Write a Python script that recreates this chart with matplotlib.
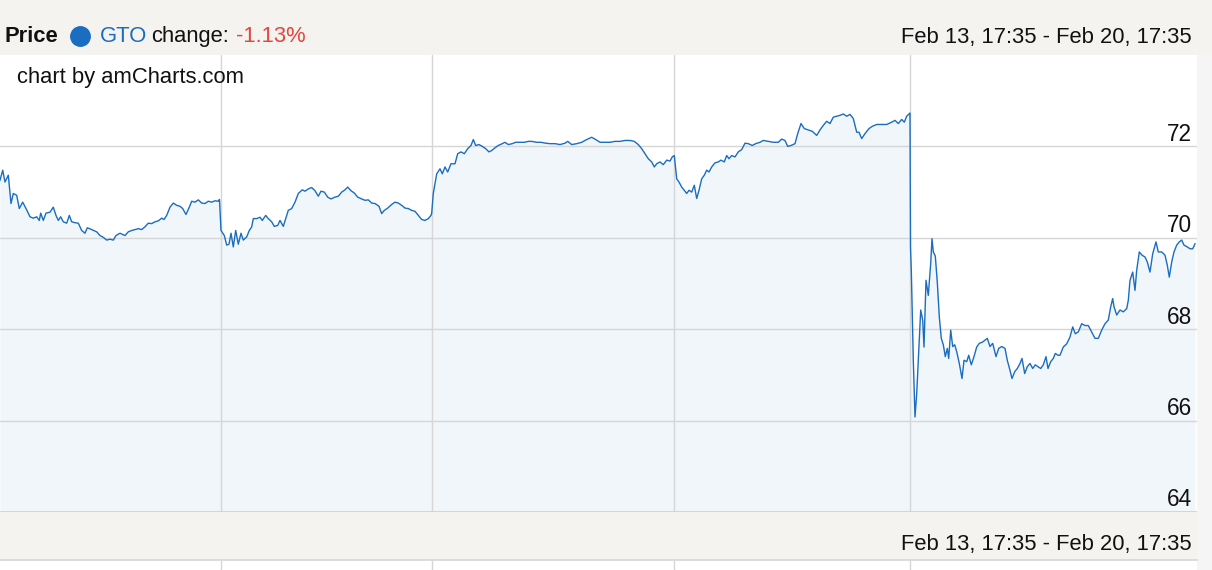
import matplotlib
matplotlib.use("Agg")
import matplotlib.pyplot as plt
from matplotlib.patches import Rectangle
from matplotlib.lines import Line2D

plt.rcParams['font.family'] = ['Liberation Sans', 'DejaVu Sans']

# ---------------- data ----------------
# position along the (compressed) time axis, 0 .. 1197 steps covering Feb 13 17:35 - Feb 20 17:35
t = [0, 2.7, 5, 8.3, 11, 13.3, 16.7, 19.3, 22.7, 26.7, 30, 33.3, 36.7, 39.3, 40.7, 43.3, 46, 50, 53.3, 56,
     58.3, 60.7, 63.3, 66.7, 69.3, 71.7, 75, 78.3, 81.7, 85, 87.3, 91.7, 96.7, 100, 103.3, 106.7, 110, 113.3,
     116, 120, 125, 128.3, 131.7, 135, 138.3, 141.7, 145, 148.3, 151.7, 155, 158.3, 161.7, 164, 166.7, 170,
     173.3, 176.7, 180, 182.7, 186, 189.3, 191.7, 195, 198.3, 201.7, 205, 208.3, 211.7, 215, 218.3,
     219.5, 221, 224.3, 226.7, 229, 231, 233.3, 235.7, 238.3, 241, 243.3, 246.7, 249.3, 251.7, 253.3, 256.7,
     260, 262.3, 265.7, 268.3, 271.7, 274.3, 277.7, 280, 283.3, 285.7, 288.3, 291.7, 295, 298.3, 302.3, 305,
     308.3, 311.7, 315, 318.3, 321, 324.3, 327.7, 331, 335, 338.3, 341.7, 345, 347.7, 351, 354.3, 357.7,
     361.7, 365, 368.3, 371.7, 375, 379, 381.7, 384.3, 387.7, 391.7, 395, 398.3, 401.7, 405, 408.3, 411.7,
     415, 418.3, 421.7, 425, 428.3, 431,
     431.7, 433.3, 436.7, 440, 442.3, 445, 447.7, 451, 455, 457.7, 461, 464.3, 467.7, 471, 473.3, 475.7, 479,
     482.3, 485.7, 489, 491.7, 495, 498.3, 502.3, 505, 508.3, 512.3, 515.7, 520, 524.3, 528.3, 531.7, 536.7,
     541, 545.7, 550, 555, 560, 565, 567.7, 571.7, 576.7, 581.7, 586.7, 591.7, 595.7, 600, 605, 610, 615,
     620, 625, 630, 634.3, 638.3, 641.7, 645, 648.3, 651.7, 654.3, 656.7, 660, 663.3, 666.7, 670, 672.3,
     674.3,
     676.7, 679, 681.7, 684.3, 686.7, 689, 691.7, 694.3, 696.7, 699, 701.7, 704.3, 706.7, 709, 711.7, 715,
     718.3, 721, 724.3, 726.7, 729, 731.7, 735, 738.3, 741.7, 745, 748.3, 752.3, 755.7, 760, 763.3, 768.3,
     773.3, 778.3, 781.7, 785, 787.7, 791, 795, 797.7, 801, 804.3, 808.3, 812.3, 816.7, 820, 823.3, 826.7,
     830, 833.3, 836.7, 840, 843.3, 846.7, 850, 853.3, 856.7, 859, 861.7, 865, 869, 872.3, 876.7, 881.7,
     886.7, 891.7, 895, 898.3, 901.7, 904.3, 906.7, 910,
     910.5, 911.3, 913.3, 915, 916.7, 918.3, 920.7, 922.7, 924, 926, 928.3, 930.7, 932, 933.3, 935.3, 937.3,
     939.3, 941.3, 943.3, 945.3, 947.3, 948.7, 950.7, 952.7, 954.7, 956.7, 959.3, 962, 964, 966.7, 968.7,
     971.3, 974, 976.7, 979.3, 982.7, 985, 987.3, 990, 992.7, 996, 998.7, 1001.7, 1005, 1007.3, 1010, 1012,
     1014.7, 1017.3, 1020, 1022, 1024.7, 1027.3, 1030, 1032.7, 1035.3, 1038, 1040.7, 1043.3, 1046, 1048,
     1050.7, 1053.3, 1055.3, 1058, 1060,
     1063.3, 1066.7, 1070, 1072.7, 1075.3, 1078.3, 1081.7, 1085, 1088.3, 1091.7, 1095, 1098.3, 1101.7, 1105,
     1108.3, 1110.7, 1112.7, 1114, 1116.7, 1120, 1123.3, 1126.7, 1128.3, 1130, 1132.7, 1135, 1136.7, 1139.3,
     1142, 1145, 1147.3, 1150, 1152.7, 1156, 1158.3, 1161.7, 1165, 1167.3, 1169.3, 1171.7, 1174, 1176.7,
     1179.3, 1181.7, 1184, 1187.3, 1190, 1192.7, 1195]

price = [71.26, 71.48, 71.22, 71.37, 70.75, 70.97, 70.93, 70.64, 70.78, 70.61, 70.46, 70.43, 70.46, 70.38,
         70.54, 70.38, 70.54, 70.56, 70.67, 70.49, 70.38, 70.46, 70.35, 70.32, 70.49, 70.35, 70.33, 70.32,
         70.16, 70.10, 70.22, 70.18, 70.13, 70.05, 70.01, 69.95, 69.97, 69.95, 70.05, 70.10, 70.05, 70.13,
         70.16, 70.18, 70.20, 70.18, 70.24, 70.32, 70.31, 70.35, 70.37, 70.43, 70.40, 70.49, 70.67, 70.76,
         70.71, 70.69, 70.64, 70.51, 70.67, 70.80, 70.78, 70.83, 70.76, 70.75, 70.80, 70.78, 70.81, 70.80,
         70.84, 70.16, 70.05, 69.84, 69.86, 70.10, 69.80, 70.16, 69.86, 70.10, 69.95, 70.02, 70.16, 70.24,
         70.42, 70.42, 70.45, 70.38, 70.49, 70.42, 70.35, 70.25, 70.27, 70.38, 70.25, 70.42, 70.60, 70.64,
         70.78, 70.97, 71.05, 71.02, 71.07, 71.10, 71.03, 70.91, 71.02, 71.00, 70.89, 70.85, 70.89, 70.91,
         71.00, 71.05, 71.11, 71.03, 70.98, 70.89, 70.85, 70.82, 70.83, 70.76, 70.75, 70.69, 70.53, 70.60,
         70.65, 70.73, 70.78, 70.76, 70.71, 70.65, 70.64, 70.60, 70.58, 70.49, 70.40, 70.38, 70.42, 70.49,
         70.54, 70.97, 71.40, 71.51, 71.40, 71.55, 71.44, 71.62, 71.62, 71.84, 71.88, 71.84, 71.95, 72.02,
         72.15, 72.02, 72.04, 72.00, 71.95, 71.88, 71.91, 71.97, 72.02, 72.06, 72.09, 72.04, 72.06, 72.09,
         72.09, 72.09, 72.11, 72.11, 72.09, 72.09, 72.07, 72.06, 72.06, 72.04, 72.07, 72.11, 72.04, 72.06,
         72.09, 72.15, 72.20, 72.15, 72.09, 72.09, 72.09, 72.11, 72.11, 72.13, 72.13, 72.11, 72.04, 71.95,
         71.84, 71.73, 71.66, 71.55, 71.62, 71.66, 71.60, 71.70, 71.68, 71.77,
         71.80,
         71.29, 71.22, 71.11, 71.04, 70.97, 71.04, 71.00, 71.15, 70.86, 71.04, 71.29, 71.37, 71.48, 71.44,
         71.55, 71.64, 71.66, 71.70, 71.66, 71.80, 71.73, 71.80, 71.77, 71.88, 71.93, 72.07, 72.06, 72.02,
         72.06, 72.09, 72.13, 72.11, 72.09, 72.09, 72.16, 72.13, 72.00, 72.02, 72.06, 72.28, 72.50, 72.39,
         72.36, 72.33, 72.24, 72.36, 72.46, 72.55, 72.50, 72.64, 72.66, 72.68, 72.71, 72.66, 72.70, 72.61,
         72.31, 72.31, 72.17, 72.28, 72.39, 72.44, 72.48, 72.48, 72.48, 72.53, 72.57, 72.50, 72.59, 72.53,
         72.66, 72.73,
         69.80, 69.29, 67.32, 66.08, 66.59, 67.32, 68.42, 68.20, 67.61, 69.07, 68.74, 69.44, 69.98, 69.69,
         69.60, 69.03, 68.27, 67.80, 67.66, 67.40, 67.58, 67.36, 67.98, 67.62, 67.66, 67.51, 67.25, 66.92,
         67.32, 67.29, 67.43, 67.22, 67.40, 67.61, 67.69, 67.72, 67.76, 67.80, 67.62, 67.69, 67.40, 67.58,
         67.62, 67.58, 67.32, 67.10, 66.92, 67.07, 67.14, 67.25, 67.36, 67.03, 67.18, 67.25, 67.14, 67.22,
         67.18, 67.14, 67.22, 67.40, 67.14, 67.29, 67.36, 67.47, 67.43, 67.43,
         67.61, 67.68, 67.83, 68.05, 67.90, 67.94, 68.12, 68.08, 68.08, 67.94, 67.80, 67.80, 67.98, 68.12,
         68.20, 68.49, 68.67, 68.49, 68.31, 68.42, 68.38, 68.45, 68.63, 69.07, 69.25, 68.85, 69.29, 69.69,
         69.62, 69.58, 69.47, 69.25, 69.65, 69.91, 69.69, 69.69, 69.62, 69.40, 69.14, 69.47, 69.69, 69.84,
         69.91, 69.95, 69.84, 69.80, 69.76, 69.76, 69.87]

day_breaks = [221, 432, 674, 910]          # day separators on the time axis
y_ticks = [64, 66, 68, 70, 72]
y_min, y_max = 64, 74
x_max = 1197

title = "Price"
ticker = "GTO"
change_label = "change:"
change_value = "-1.13%"
period = "Feb 13, 17:35 - Feb 20, 17:35"
credit = "chart by amCharts.com"

# ---------------- style ----------------
BLUE = "#1a6dbf"
FILL = "#f1f6fb"
GRID = "#d6d6d6"
BAND = "#f4f3f0"
RED = "#e2463d"
FS = 15.8

W, H = 1212, 570
fig = plt.figure(figsize=(W / 100, H / 100), dpi=100)
fig.patch.set_facecolor("white")


def fx(x):
    return x / W


def fy(y):
    return 1 - y / H


# right page strip
fig.patches.append(Rectangle((fx(1197), 0), 1 - fx(1197), 1, transform=fig.transFigure,
                             facecolor="#f5f5f5", edgecolor="none", zorder=0))
# header band
fig.patches.append(Rectangle((0, fy(55)), 1, 55 / H, transform=fig.transFigure,
                             facecolor=BAND, edgecolor="none", zorder=0))
# bottom band
fig.patches.append(Rectangle((0, fy(560)), fx(1197), 48 / H, transform=fig.transFigure,
                             facecolor=BAND, edgecolor="none", zorder=0))
fig.add_artist(Line2D([0, fx(1197)], [fy(560), fy(560)], transform=fig.transFigure,
                      color=GRID, lw=1.2))

# main plot
ax = fig.add_axes([0, fy(512), fx(1197), fy(55) - fy(512)])
ax.set_facecolor("white")
ax.fill_between(t, price, y_min, color=FILL, lw=0, zorder=1)
ax.plot(t, price, color=BLUE, lw=1.0, zorder=3)
for v in y_ticks[1:]:
    ax.axhline(v, color=GRID, lw=1.0, zorder=2)
for d in day_breaks:
    ax.axvline(d, color=GRID, lw=1.0, zorder=2)
ax.set_xlim(0, x_max)
ax.set_ylim(y_min, y_max)
ax.set_xticks([])
ax.set_yticks([])
for s in ["top", "left", "right"]:
    ax.spines[s].set_visible(False)
ax.spines["bottom"].set_color("#cfcfcf")
ax.spines["bottom"].set_linewidth(1.2)
for v in y_ticks:
    ax.annotate(str(v), xy=(1192 / 1197, v), xycoords=ax.get_yaxis_transform(),
                xytext=(0, 4), textcoords="offset points", ha="right", va="baseline",
                fontsize=FS + 0.5, color="#111111", zorder=4)
ax.text(17 / 1197, 1 - 28 / 457, credit, transform=ax.transAxes, fontsize=FS,
        color="#111111", va="baseline", ha="left")

# strip below bottom band (scrollbar area)
ax2 = fig.add_axes([0, 0, fx(1197), fy(561)])
ax2.set_xlim(0, x_max)
ax2.set_ylim(0, 1)
for d in day_breaks:
    ax2.axvline(d, color=GRID, lw=1.0)
ax2.axis("off")

# header texts
fig.text(fx(4), fy(42), title, fontsize=FS, weight="bold", color="#111111", va="baseline")
fig.add_artist(Line2D([fx(80)], [fy(36)], marker="o", markersize=14, color=BLUE,
                      transform=fig.transFigure, lw=0))
fig.text(fx(100), fy(42), ticker, fontsize=FS, color=BLUE, va="baseline")
fig.text(fx(151), fy(42), change_label, fontsize=FS, color="#111111", va="baseline")
fig.text(fx(236), fy(42), change_value, fontsize=FS, color=RED, va="baseline")
fig.text(fx(1192), fy(42.5), period, fontsize=FS, color="#111111", va="baseline", ha="right")
fig.text(fx(1192), fy(550), period, fontsize=FS, color="#111111", va="baseline", ha="right")

fig.savefig("out.png", dpi=100)
